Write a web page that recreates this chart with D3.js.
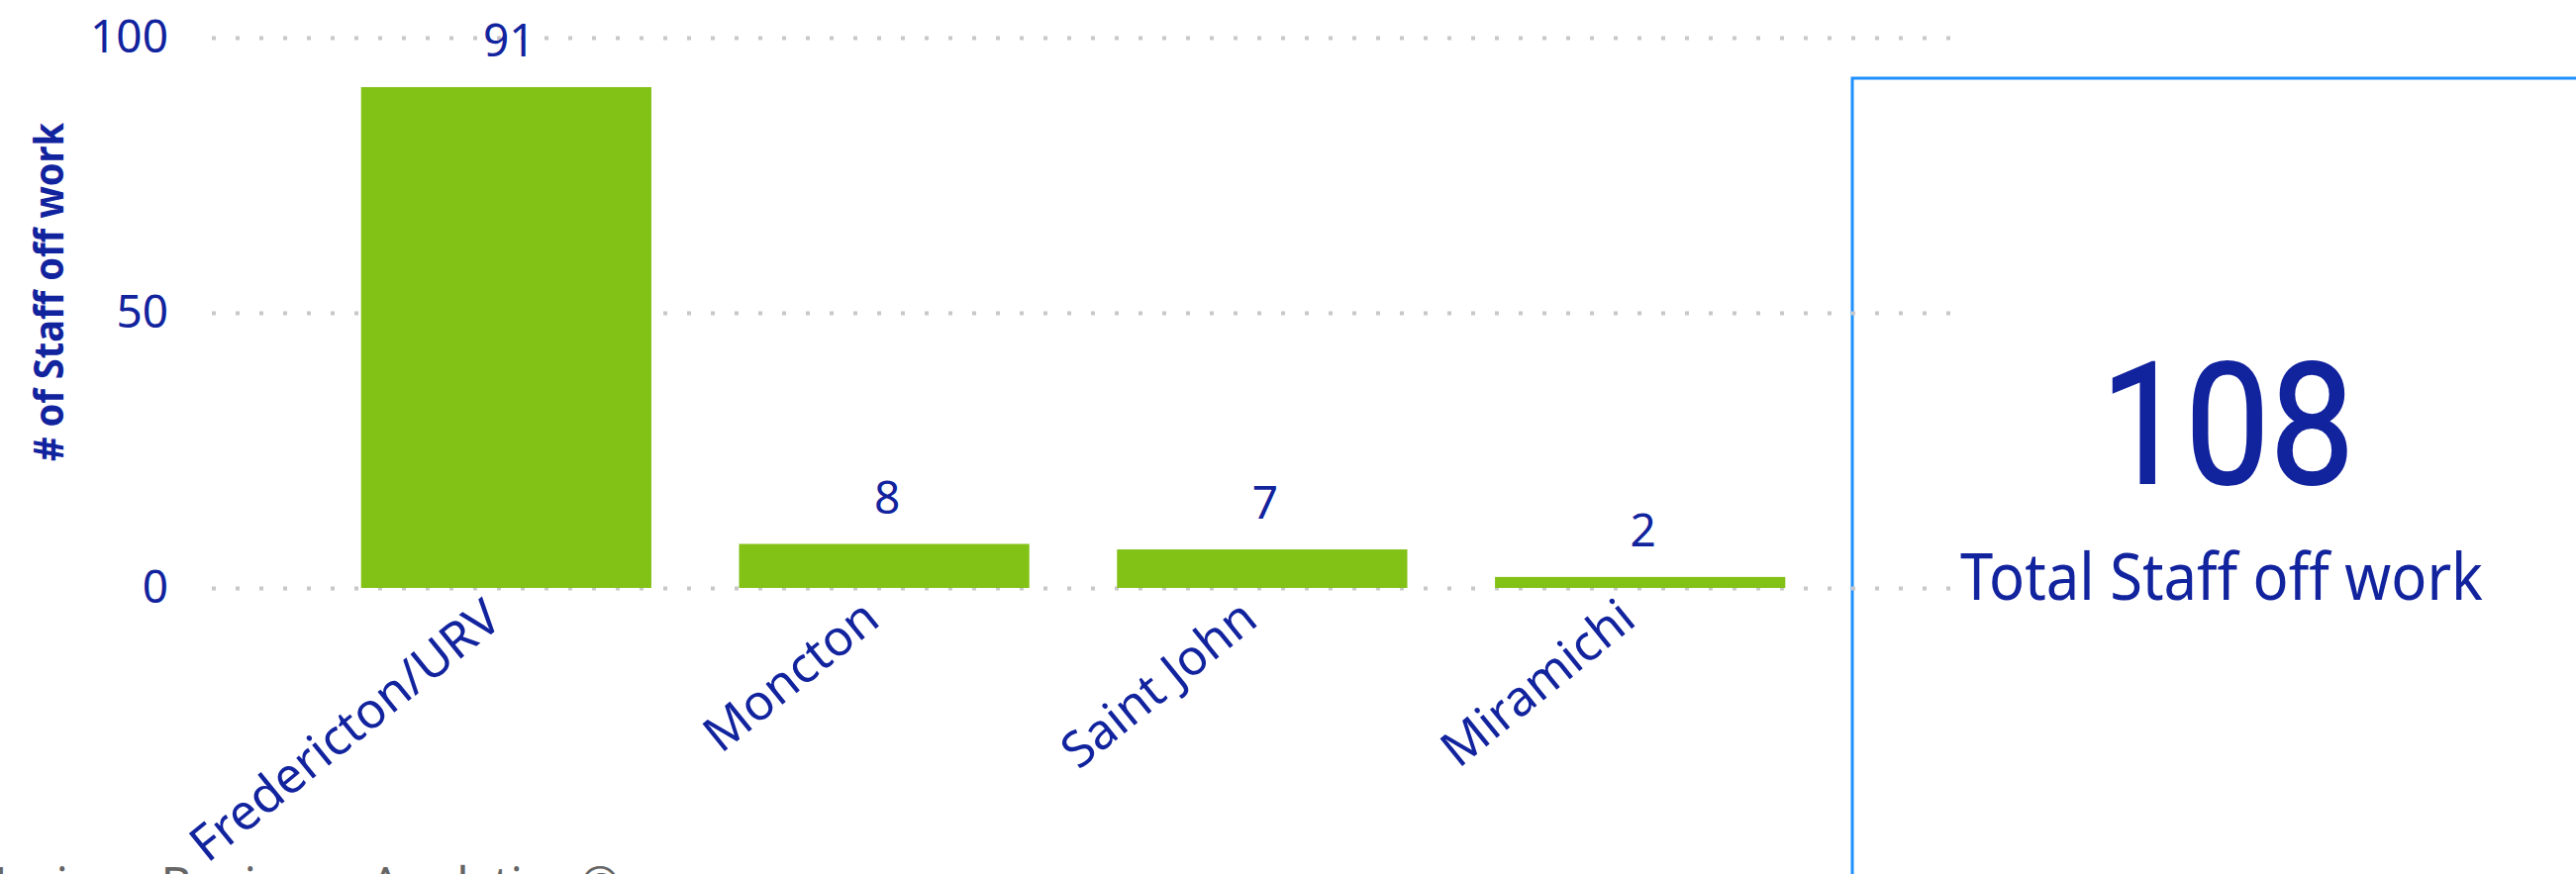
<!DOCTYPE html>
<html>
<head>
<meta charset="utf-8">
<script src="https://cdn.jsdelivr.net/npm/d3@7"></script>
<style>
  body { margin: 0; background: #fff; overflow: hidden; }
  svg { display: block; }
</style>
</head>
<body>
<div id="chart"></div>
<script>
// data
var categories = ["Fredericton/URV", "Moncton", "Saint John", "Miramichi"];
var staffOff = [91, 8, 7, 2];
var yTicks = [0, 50, 100];
var axisTitle = "# of Staff off work";
var kpiLabel = "Total Staff off work";
var footerText = "Horizon Business Analytics \u00A9";

var width = 2602,
    height = 883;

var blue = "#12239E",
    green = "#82C115",
    grid = "#C8C8C8",
    font = "'Segoe UI', 'Noto Sans', sans-serif";

var svg = d3.select("#chart").append("svg")
    .attr("width", width)
    .attr("height", height)
    .style("font-family", font);

//the card on the right, drawn first so the gridlines sit on top of its edge
svg.append("rect")
    .attr("x", 1871)
    .attr("y", 79)
    .attr("width", 900)
    .attr("height", 900)
    .attr("fill", "none")
    .attr("stroke", "#1E90FF")
    .attr("stroke-width", 3);

svg.append("text")
    .attr("x", 2250)
    .attr("y", 488)
    .attr("text-anchor", "middle")
    .attr("fill", blue)
    .style("font-family", "Roboto, 'DejaVu Sans', sans-serif")
    .style("font-weight", 400)
    .style("font-size", "170px")
    .style("stroke", blue)
    .style("stroke-width", 2)
    .attr("textLength", 256)
    .attr("lengthAdjust", "spacingAndGlyphs")
    .text(d3.sum(staffOff));

svg.append("text")
    .attr("x", 2244)
    .attr("y", 606)
    .attr("text-anchor", "middle")
    .attr("fill", blue)
    .style("font-size", "66px")
    .attr("textLength", 528)
    .attr("lengthAdjust", "spacingAndGlyphs")
    .text(kpiLabel);

////////////////////////////////////////////////////////////
/////////////////////// Scales /////////////////////////////
////////////////////////////////////////////////////////////

var y = d3.scaleLinear()
    .domain([0, 100])
    .range([594, 38]);

var x = d3.scaleBand()
    .domain(categories)
    .range([212, 1956])
    .paddingInner(0.232)
    .paddingOuter(0.4);

//y axis with dotted gridlines
var gridLeft = 214,
    gridRight = 1976;

var yAxis = svg.append("g")
    .attr("transform", "translate(" + gridLeft + ",0)")
    .call(d3.axisLeft(y)
        .tickValues(yTicks)
        .tickSize(-(gridRight - gridLeft))
        .tickPadding(44));

yAxis.select(".domain").remove();
yAxis.selectAll("line")
    .attr("stroke", grid)
    .attr("stroke-width", 4)
    .attr("stroke-dasharray", "4,20");
yAxis.selectAll("text")
    .attr("fill", blue)
    .style("font-family", font)
    .style("font-size", "46px");

svg.append("text")
    .attr("transform", "translate(64,295) rotate(-90)")
    .attr("text-anchor", "middle")
    .attr("fill", blue)
    .style("font-size", "41px")
    .style("font-weight", "bold")
    .attr("textLength", 342)
    .attr("lengthAdjust", "spacingAndGlyphs")
    .text(axisTitle);

////////////////////////////////////////////////////////////
//////////////////////// Bars //////////////////////////////
////////////////////////////////////////////////////////////

var rows = categories.map(function(c, i) { return {name: c, value: staffOff[i]}; });

svg.append("g")
    .selectAll("rect")
    .data(rows)
    .enter().append("rect")
    .attr("x", function(d) { return x(d.name); })
    .attr("y", function(d) { return y(d.value); })
    .attr("width", x.bandwidth())
    .attr("height", function(d) { return y(0) - y(d.value); })
    .attr("fill", green);

//value labels
svg.append("g")
    .selectAll("text")
    .data(rows)
    .enter().append("text")
    .attr("x", function(d) { return x(d.name) + x.bandwidth() / 2 + 3; })
    .attr("y", function(d) { return y(d.value) - 31; })
    .attr("text-anchor", "middle")
    .attr("fill", blue)
    .style("font-size", "46px")
    .text(function(d) { return d.value; });

//x axis, rotated labels ending just under each bar's centre
var angle = 39;

var xAxis = svg.append("g")
    .attr("transform", "translate(0," + y(0) + ")")
    .call(d3.axisBottom(x).tickSize(0));

xAxis.select(".domain").remove();
xAxis.selectAll("text")
    .attr("x", 0)
    .attr("y", 0)
    .attr("dy", 0)
    .attr("text-anchor", "end")
    .attr("transform", "translate(-2,36) rotate(" + (-angle) + ")")
    .attr("fill", blue)
    .style("font-family", font)
    .style("font-size", "50px");

//footer, mostly cut off by the bottom edge
svg.append("text")
    .attr("x", -28)
    .attr("y", 910)
    .attr("fill", "#666")
    .style("font-size", "48px")
    .text(footerText);
</script>
</body>
</html>
